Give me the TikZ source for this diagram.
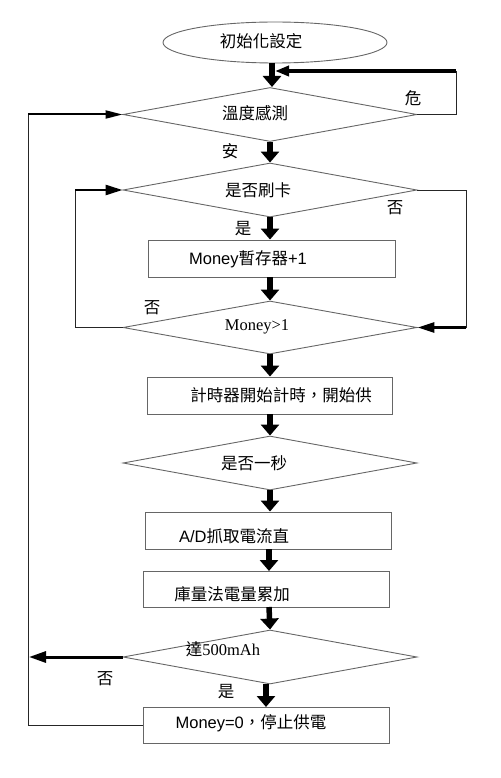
\documentclass[tikz,border=0pt]{standalone}
\usepackage{fontspec}
\setmainfont{Liberation Serif}
\newfontfamily\cjk{Noto Sans CJK TC}
\newfontfamily\arl{Liberation Sans}
\usetikzlibrary{shapes.geometric,arrows.meta}
\begin{document}
\begin{tikzpicture}[x=1pt,y=-1pt,
 shapeline/.style={draw=black!60, line width=0.9pt},
 dia/.style={shapeline, diamond, minimum width=294pt, minimum height=54pt, inner sep=0pt},
 box/.style={shapeline, rectangle, minimum width=246pt, minimum height=37pt, inner sep=0pt},
 txt/.style={inner sep=0pt, font=\fontsize{16.5}{18}\selectfont},
 downarr/.style={line width=5.5pt, -{Triangle[width=18pt,length=11pt]}},
 sidearr/.style={line width=2.5pt, -{Triangle[width=10pt,length=17pt]}},
 thinline/.style={line width=1pt, draw=black!85},
]
\useasboundingbox (0,0) rectangle (500,778);
% shapes
\node[shapeline, ellipse, minimum width=224pt, minimum height=41pt, inner sep=0pt] (e0) at (275,42.5) {};
\node[dia] (d1) at (270,114.5) {};
\node[dia] (d2) at (270,190) {};
\node[box, minimum width=247pt] (b1) at (271.5,258.5) {};
\node[dia, minimum height=53pt] (d3) at (270,327.5) {};
\node[box, minimum width=245pt] (b2) at (269.5,395.5) {};
\node[dia] (d4) at (270,463) {};
\node[box] (b3) at (268,530.5) {};
\node[box, minimum height=36pt] (b4) at (266,589) {};
\node[dia] (d5) at (270,657) {};
\node[box, minimum height=36pt] (b5) at (266,725) {};
% texts
\node[txt] (t0) at (261,41) {\cjk 初始化設定};
\node[txt] (t1) at (255,113) {\cjk 溫度感測};
\node[txt] (t2) at (258,190) {\cjk 是否刷卡};
\node[txt] (t3) at (248,259) {\arl Money\cjk 暫存器\arl +1};
\node[txt] (t4) at (257,327) {Money>1};
\node[txt] (t5) at (281,395) {\cjk 計時器開始計時，開始供};
\node[txt] (t6) at (254,463) {\cjk 是否一秒};
\node[txt] (t7) at (234,536) {\arl A/D\cjk 抓取電流直};
\node[txt] (t8) at (232,594) {\cjk 庫量法電量累加};
\node[txt] (t9) at (223,649) {\cjk 達\rmfamily 500mAh};
\node[txt] (t10) at (251,723) {\arl Money=0\cjk ，停止供電};
% branch labels
\node[txt] (l1) at (413,98) {\cjk 危};
\node[txt] (l2) at (230,151) {\cjk 安};
\node[txt] (l3) at (395,208) {\cjk 否};
\node[txt] (l4) at (243,229) {\cjk 是};
\node[txt] (l5) at (152,308) {\cjk 否};
\node[txt] (l6) at (105,679) {\cjk 否};
\node[txt] (l7) at (226,692) {\cjk 是};
% down arrows
\draw[downarr] (272,63) -- (272,87);
\draw[downarr] (d1.south) -- (d2.north);
\draw[downarr] (d2.south) -- (d2.south |- b1.north);
\draw[downarr] (d2.south |- b1.south) -- (d3.north);
\draw[downarr] (d3.south) -- (d3.south |- b2.north);
\draw[downarr] (d3.south |- b2.south) -- (d4.north);
\draw[downarr] (d4.south) -- (d4.south |- b3.north);
\draw[downarr] (269,549) -- (269,571);
\draw[downarr] (269,607) -- (d5.north);
\draw[downarr] (266,684) -- (266,707);
% danger loop
\coordinate (c1) at (456,114.5);
\coordinate (c2) at (456,71);
\coordinate (c3) at (275,71);
\draw[thinline] (d1.east) -- (c1) -- (c2);
\draw[line width=3.5pt, -{Triangle[width=10pt,length=14pt]}] (c2) -- (c3);
% card no-branch
\coordinate (c4) at (466,190);
\coordinate (c5) at (466,327.5);
\draw[thinline] (d2.east) -- (c4) -- (c5);
\draw[sidearr, line width=3pt] (c5) -- (d3.east);
% money>1 no-branch
\coordinate (c6) at (75,327.5);
\coordinate (c7) at (75,190);
\draw[thinline] (d3.west) -- (c6) -- (c7);
\draw[sidearr] (c7) -- (d2.west);
% 500mAh no-branch
\coordinate (c8) at (29,657);
\draw[sidearr, line width=3pt, -{Triangle[width=11pt,length=17pt]}] (d5.west) -- (c8);
% return loop
\coordinate (c9) at (28,725);
\coordinate (c10) at (28,114.5);
\draw[thinline] (b5.west) -- (c9) -- (c10);
\draw[sidearr, line width=2pt, -{Triangle[width=8pt,length=17pt]}] (c10) -- (d1.west);
\end{tikzpicture}
\end{document}
